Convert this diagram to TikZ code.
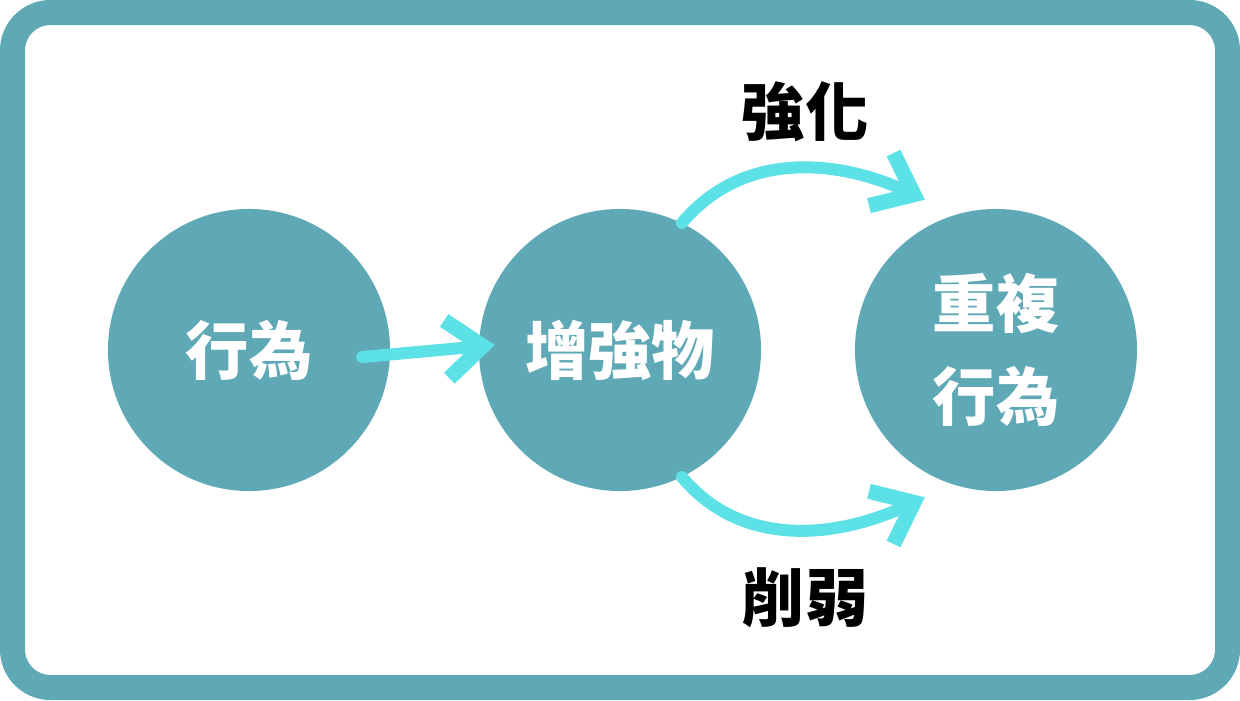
\documentclass[tikz,border=0pt]{standalone}
\usepackage{fontspec}
\newfontfamily\cjk{Noto Sans CJK TC}
\usetikzlibrary{arrows.meta}
\definecolor{teal}{HTML}{5FA8B5}
\definecolor{aqua}{HTML}{5CE1E6}
\begin{document}
\begin{tikzpicture}[x=0.025cm, y=0.025cm,
    ball/.style={circle, fill=teal, minimum size=7.05cm, inner sep=0pt, text=white,
        align=center, font=\cjk\bfseries\fontsize{45}{66}\selectfont},
    tag/.style={text=black, font=\cjk\bfseries\fontsize{45}{54}\selectfont},
    flow/.style={draw=aqua, line width=0.3cm, line cap=round,
        -{Straight Barb[length=0.9cm, width=1.45cm, line width=0.38cm]}}]
        \useasboundingbox (0,0) rectangle (1240,700);
        % Frame
        \fill[white] (0,0) rectangle (1240,700);
        \draw[teal, line width=0.625cm, rounded corners=0.95cm] (12.5,12.5) rectangle (1227.5,687.5);
        % Circles
        \node[ball] (behav) at (249,350) {行為};
        \node[ball] (reinf) at (620,350) {增強物};
        \node[ball] (repbeh) at (996,350) {重複\\行為};
        \node[tag] (strong) at (805,588) {強化};
        \node[tag] (weak) at (805,102) {削弱};
        % Arrows
        \draw[flow] ([xshift=-0.7cm, yshift=-0.175cm]behav.east) -- ([xshift=0.4cm, yshift=0.125cm]reinf.west);
        \draw[flow] (reinf.64) to[out=50, in=155] ([xshift=-0.285cm, yshift=0.555cm]repbeh.115);
        \draw[flow] (reinf.-64) to[out=-50, in=-155] ([xshift=-0.285cm, yshift=-0.48cm]repbeh.-115);
    \end{tikzpicture}
\end{document}
